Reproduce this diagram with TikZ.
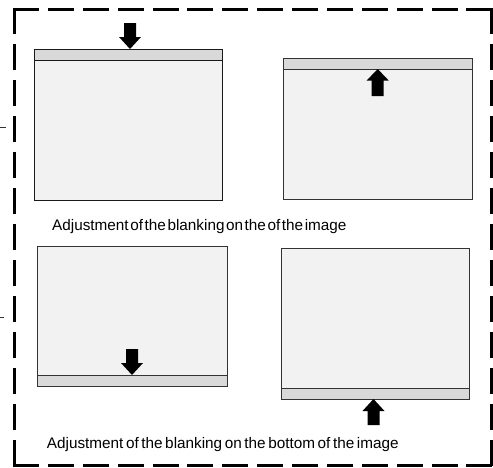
\documentclass[tikz,border=0pt]{standalone}
\usepackage{fontspec}
\setmainfont{Liberation Sans}
\begin{document}
\begin{tikzpicture}[x=1pt,y=-1pt,
  screen/.style={draw=black!80,line width=0.9pt,fill=black!5},
  blank/.style={draw=black!80,line width=0.9pt,fill=black!15},
  blockarrow/.style={fill=black,draw=none},
  caption/.style={anchor=base west,inner sep=0pt,font=\fontsize{15.3}{18}\selectfont},
  border/.style={line width=3pt,line cap=rect,black},
  tick/.style={line width=0.6pt,black!80}]
\useasboundingbox (0,0) rectangle (493,467);
% dashed frame
\coordinate (tl) at (14.5,9);
\coordinate (tr) at (491,9);
\coordinate (br) at (491,465);
\coordinate (bl) at (14.5,465);
\draw[border,dash pattern=on 23pt off 11.88pt] (tl) -- (tr);
\draw[border,dash pattern=on 23pt off 11.88pt] (bl) -- (br);
\draw[border,dash pattern=on 23pt off 13.08pt] (tl) -- (bl);
\draw[border,dash pattern=on 23pt off 13.08pt] (tr) -- (br);
% left ticks
\draw[tick] (0,127) -- (6,127);
\draw[tick] (0,317) -- (4,317);
% box 1: top blanking, arrow down
\draw[screen,draw=black!90] (34,49) rectangle (222,200);
\draw[blank,draw=black!90] (34,49) rectangle (222,60);
\fill[blockarrow] (124,23) -- (136,23) -- (136,37) -- (141,37) -- (130,49) -- (119,37) -- (124,37) -- cycle;
% box 2: top blanking, arrow up
\draw[screen] (283,58) rectangle (472,199);
\draw[blank] (283,58) rectangle (472,69);
\fill[blockarrow] (377.7,69) -- (388.7,80.5) -- (383.7,80.5) -- (383.7,96) -- (371.7,96) -- (371.7,80.5) -- (366.7,80.5) -- cycle;
% caption 1
\node[caption] (cap1) at (52,230) {\spaceskip=1.6pt\relax Adjustment of the blanking on the of the image};
% box 3: bottom blanking, arrow down
\draw[screen] (37,246) rectangle (227,386);
\draw[blank] (37,375) rectangle (227,386);
\fill[blockarrow] (126,349) -- (138,349) -- (138,363) -- (143,363) -- (132,375) -- (121,363) -- (126,363) -- cycle;
% box 4: bottom blanking, arrow up
\draw[screen] (281,248) rectangle (469,399);
\draw[blank] (281,388) rectangle (469,399);
\fill[blockarrow] (373.5,399) -- (384.5,411) -- (379.5,411) -- (379.5,425) -- (367.5,425) -- (367.5,411) -- (362.5,411) -- cycle;
% caption 2
\node[caption] (cap2) at (46.7,448) {\spaceskip=2.6pt\relax Adjustment of the blanking on the bottom of the image};
\end{tikzpicture}
\end{document}
